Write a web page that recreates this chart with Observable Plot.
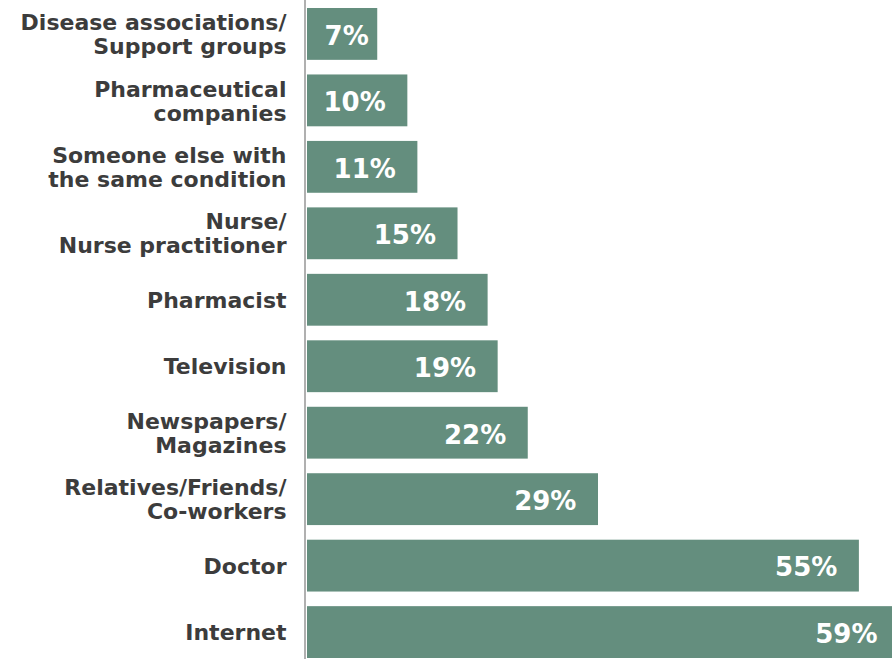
<!DOCTYPE html>
<html>
<head>
<meta charset="utf-8">
<script src="https://cdn.jsdelivr.net/npm/d3@7"></script>
<script src="https://cdn.jsdelivr.net/npm/@observablehq/plot@0.6"></script>
<style>
  html, body { margin: 0; padding: 0; background: #fff; overflow: hidden; }
  #chart svg { display: block; }
</style>
</head>
<body>
<div id="chart"></div>
<script>
const categories = [
  "Disease associations/\nSupport groups",
  "Pharmaceutical\ncompanies",
  "Someone else with\nthe same condition",
  "Nurse/\nNurse practitioner",
  "Pharmacist",
  "Television",
  "Newspapers/\nMagazines",
  "Relatives/Friends/\nCo-workers",
  "Doctor",
  "Internet"
];
const values = [7, 10, 11, 15, 18, 19, 22, 29, 55, 59];

const data = categories.map((c, i) => ({category: c, value: values[i]}));

const chart = Plot.plot({
  width: 892,
  height: 659,
  marginLeft: 307,
  marginRight: 0,
  marginTop: 8,
  marginBottom: 1,
  style: {background: "#fff"},
  x: {domain: [0, 58.3], axis: null},
  y: {domain: categories, paddingInner: 0.22, paddingOuter: 0, round: false, axis: null},
  marks: [
    Plot.barX(data, {x: "value", y: "category", fill: "#648e7e", clip: true}),
    Plot.ruleX([0], {stroke: "#b0b0b0", strokeWidth: 2, dx: -2.5, insetTop: -8, insetBottom: -1}),
    Plot.text(data, {
      y: "category", frameAnchor: "left", text: "category",
      textAnchor: "end", dx: -21, lineHeight: 1.09,
      fill: "#3c3c3c", fontSize: 22, fontWeight: "bold", fontFamily: "DejaVu Sans"
    }),
    Plot.text(data, {
      x: d => Math.max(d.value - 2.2, 6.1), y: "category", dy: 2,
      text: d => d.value + "%",
      textAnchor: "end", fill: "#fff", fontSize: 26, fontWeight: "bold", fontFamily: "DejaVu Sans"
    })
  ]
});
document.getElementById("chart").appendChild(chart);
</script>
</body>
</html>
